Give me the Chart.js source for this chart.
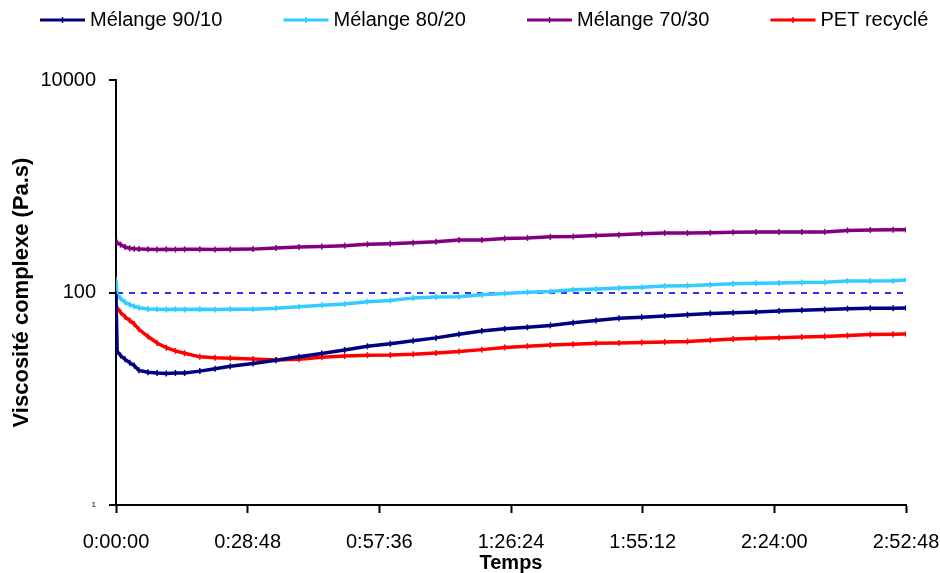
<!DOCTYPE html>
<html>
<head>
<meta charset="utf-8">
<script src="https://cdn.jsdelivr.net/npm/chart.js@4/dist/chart.umd.min.js"></script>
<style>
html,body{margin:0;padding:0;background:#fff;}
#wrap{width:940px;height:573px;}
</style>
</head>
<body>
<div id="wrap"><canvas id="c" width="940" height="573"></canvas></div>
<script>
// Time in seconds since start
const times = [0, 15, 60, 120, 180, 240, 300, 420, 540, 660, 780, 900, 1100, 1300, 1500, 1800, 2100, 2400, 2700, 3000, 3300, 3600, 3900, 4200, 4500, 4800, 5100, 5400, 5700, 6000, 6300, 6600, 6900, 7200, 7500, 7800, 8100, 8400, 8700, 9000, 9300, 9600, 9900, 10200, 10368];

const melange9010 = [96, 28, 25.5, 23.5, 21.8, 20.5, 18.5, 17.8, 17.5, 17.3, 17.5, 17.5, 18.2, 19.2, 20.2, 21.5, 23, 24.8, 26.7, 28.8, 31.2, 33, 35.2, 37.4, 40.5, 43.5, 45.5, 47, 49, 52, 54.5, 57.2, 58.5, 60.2, 61.8, 63.5, 64.5, 65.5, 67, 68, 69, 70.5, 71, 71, 71.5];
const melange8020 = [131, 95, 88, 81, 77, 74, 72, 70, 69.5, 69, 69.5, 69, 69.5, 69, 69.5, 69.5, 71, 73.5, 76, 78, 82, 84, 89, 90.5, 91, 95, 98, 100.5, 102, 106, 108, 110, 112, 115, 116, 118, 121, 122, 123, 124, 125, 128, 128.5, 129, 131];
const melange7030 = [300, 296, 282, 268, 261, 258, 256, 255, 254, 255, 254, 255, 255, 254, 255, 256, 262, 268, 271, 276, 284, 288, 294, 300, 312, 312, 322, 326, 334, 337, 344, 350, 358, 363, 363, 365, 370, 371, 371, 372, 372, 384, 388, 389, 390];
const petRecycle = [76, 72, 65, 58.8, 54.5, 50.5, 45, 38.5, 33.5, 30.2, 28.2, 26.8, 24.8, 24.3, 24.1, 23.7, 23.2, 23.6, 24.6, 25.2, 25.7, 25.8, 26.2, 27, 27.8, 29, 30.4, 31.2, 32, 32.5, 33.3, 33.5, 33.8, 34.2, 34.6, 35.5, 36.5, 37.2, 37.6, 38.2, 38.6, 39.3, 40.2, 40.4, 40.6];

const seriesNames = ['Mélange 90/10', 'Mélange 80/20', 'Mélange 70/30', 'PET recyclé'];
const seriesColors = ['#000080', '#33ccff', '#800080', '#ff0000'];

const xTickValues = [0, 1728, 3456, 5184, 6912, 8640, 10368];
const xTickLabels = ['0:00:00', '0:28:48', '0:57:36', '1:26:24', '1:55:12', '2:24:00', '2:52:48'];
const yTickValues = [1, 100, 10000];
const yTickLabels = ['1', '100', '10000'];

const FONT = "'Liberation Sans', Arial, Helvetica, sans-serif";

const seriesValues = [melange9010, melange8020, melange7030, petRecycle];
const datasets = seriesValues.map((vals, i) => ({
  label: seriesNames[i],
  data: times.map((t, j) => ({x: t, y: vals[j]})),
  borderColor: seriesColors[i],
  backgroundColor: seriesColors[i],
  borderWidth: 3.5,
  pointStyle: 'line',
  pointRotation: 90,
  pointRadius: 3,
  pointBorderWidth: 1.5,
  pointBorderColor: seriesColors[i],
  tension: 0,
  fill: false
}));

const legendPlugin = {
  id: 'customLegend',
  afterDraw(chart) {
    const ctx = chart.ctx;
    ctx.save();
    ctx.font = '20px ' + FONT;
    ctx.textBaseline = 'middle';
    ctx.textAlign = 'left';
    const y = 20;
    chart.data.datasets.forEach((ds, i) => {
      const x0 = 40 + i * 243.5;
      ctx.strokeStyle = ds.borderColor;
      ctx.lineWidth = 3;
      ctx.beginPath();
      ctx.moveTo(x0, y);
      ctx.lineTo(x0 + 45, y);
      ctx.stroke();
      ctx.lineWidth = 1.5;
      ctx.beginPath();
      ctx.moveTo(x0 + 22.5, y - 3);
      ctx.lineTo(x0 + 22.5, y + 3);
      ctx.stroke();
      ctx.fillStyle = '#000';
      ctx.fillText(ds.label, x0 + 50, y);
    });
    ctx.restore();
  }
};

new Chart(document.getElementById('c'), {
  type: 'line',
  data: {datasets},
  plugins: [legendPlugin],
  options: {
    responsive: false,
    animation: false,
    devicePixelRatio: 1,
    layout: {padding: {top: 80, right: 34, left: 0, bottom: 0}},
    plugins: {legend: {display: false}, tooltip: {enabled: false}},
    scales: {
      x: {
        type: 'linear',
        min: 0,
        max: 10368,
        afterBuildTicks: (s) => { s.ticks = xTickValues.map(v => ({value: v})); },
        afterFit: (s) => { s.height = 68; s.paddingLeft = 0; s.paddingRight = 0; },
        ticks: {
          autoSkip: false,
          maxRotation: 0,
          padding: 17,
          color: '#000',
          font: {family: FONT, size: 20},
          callback: (v, i) => xTickLabels[i]
        },
        grid: {drawOnChartArea: false, drawTicks: true, tickLength: 8, tickColor: '#000', tickWidth: 2},
        border: {color: '#000', width: 2},
        title: {display: true, text: 'Temps', color: '#000', font: {family: FONT, size: 20, weight: 'bold', lineHeight: 1}, padding: {top: 0, bottom: 0}}
      },
      y: {
        type: 'logarithmic',
        min: 1,
        max: 10000,
        afterBuildTicks: (s) => { s.ticks = yTickValues.map(v => ({value: v})); },
        afterFit: (s) => { s.width = 116; s.paddingTop = 0; s.paddingBottom = 0; },
        ticks: {
          autoSkip: false,
          padding: 13,
          color: '#000',
          font: (c) => (c.tick && c.tick.value === 1) ? {family: FONT, size: 8} : {family: FONT, size: 20},
          callback: (v, i) => yTickLabels[i]
        },
        grid: {
          drawOnChartArea: true,
          color: (c) => (c.tick && c.tick.value === 100) ? '#3333ff' : 'rgba(0,0,0,0)',
          lineWidth: 2,
          tickLength: 7,
          tickColor: '#000',
          tickWidth: 2
        },
        border: {color: '#000', width: 2, dash: [6, 6]},
        title: {display: true, text: 'Viscosité complexe (Pa.s)', color: '#000', font: {family: FONT, size: 22, weight: 'bold', lineHeight: 1.2}, padding: {top: 9}}
      }
    }
  }
});
</script>
</body>
</html>
